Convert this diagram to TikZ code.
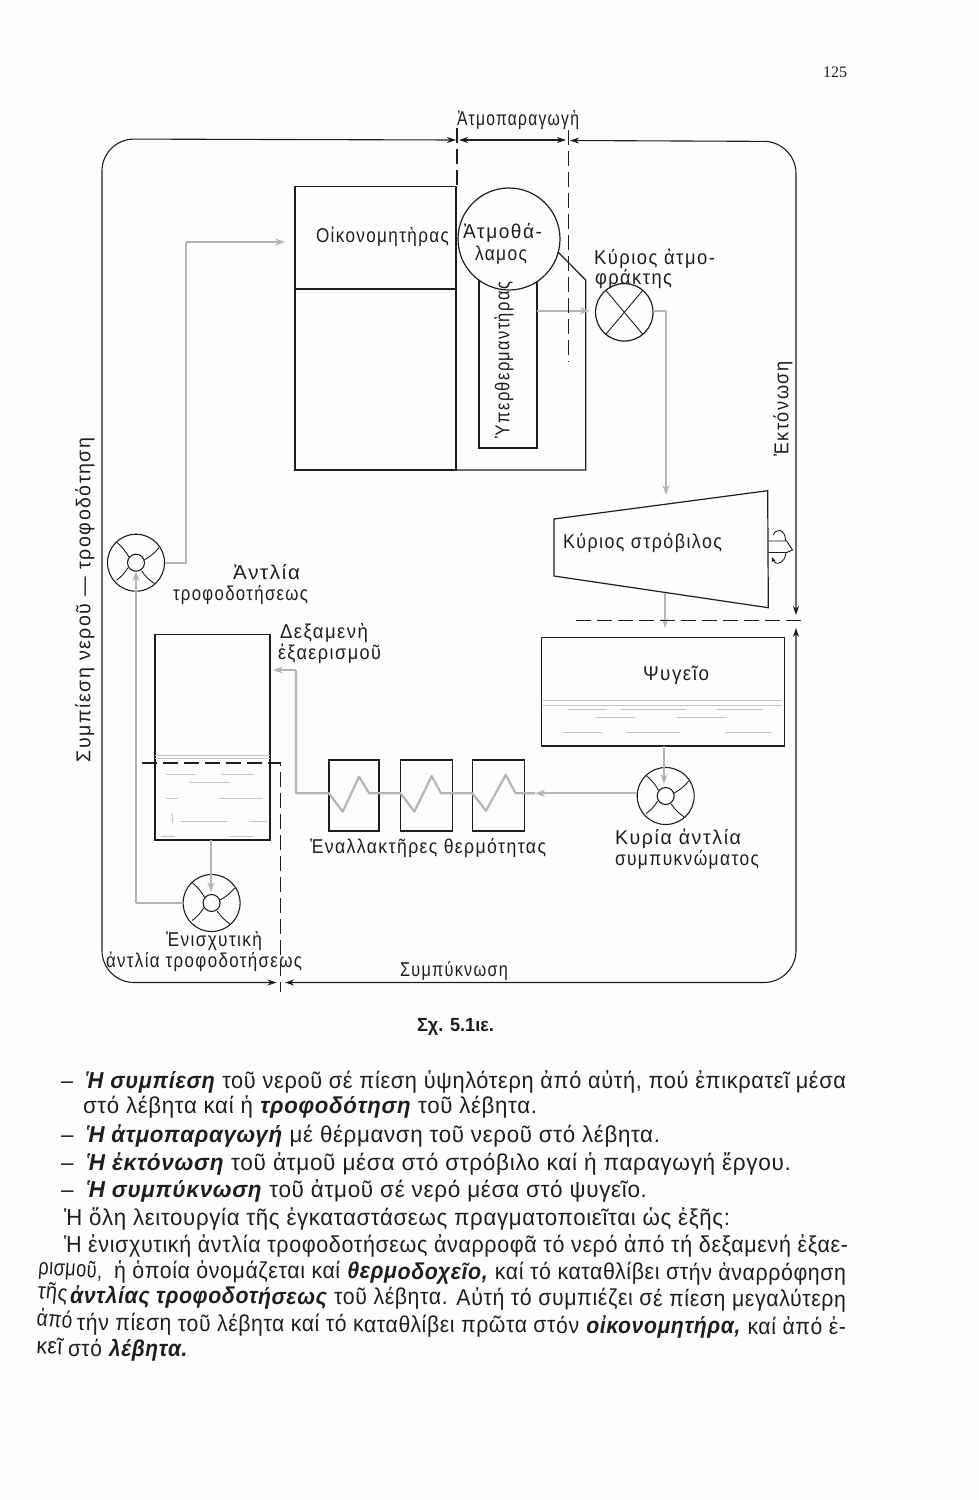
\documentclass[tikz,border=0pt]{standalone}
\usepackage{fontspec}
\usepackage{graphicx}
\setmainfont{Liberation Sans}
\newfontfamily\labfont[LetterSpace=8]{Liberation Sans}
\newfontfamily\bodyfont[LetterSpace=3]{Liberation Sans}
\newfontfamily\pagefont{Liberation Serif}
\usetikzlibrary{arrows.meta,calc}
\definecolor{ink}{HTML}{1E1E1E}
\definecolor{flowgray}{HTML}{B4B4B4}
\definecolor{watergray}{HTML}{C4C4C4}
\definecolor{paper}{HTML}{FDFDFC}
\newcommand{\plab}[5]{\node[lab] (#1) at (#2,#3) {\resizebox{#4pt}{\height}{#5}};}
\newcommand{\bline}[6][]{\node[bodyline,#1] (#2) at (#3,#4) {\resizebox{#5pt}{\height}{#6}};}
\newcommand{\rlab}[5]{\node[rlabel] (#1) at (#2,#3) {\resizebox{#4pt}{\height}{#5}};}
\newcommand{\pumpat}[3]{%
  \node[pumpc] (#1) at (#2,#3) {};
  \node[hubc] (#1h) at (#2,#3) {};
  \coordinate (#1a) at ($(#1.center)+(-19.5,-20.5)$);
  \coordinate (#1b) at ($(#1.center)+(-7,-5.5)$);
  \coordinate (#1c) at ($(#1.center)+(23,-15)$);
  \coordinate (#1d) at ($(#1.center)+(8.5,-3)$);
  \coordinate (#1e) at ($(#1.center)+(-19.5,17.5)$);
  \coordinate (#1f) at ($(#1.center)+(-8,5)$);
  \coordinate (#1g) at ($(#1.center)+(18.5,21)$);
  \coordinate (#1i) at ($(#1.center)+(5.5,8)$);
  \draw[thin line] (#1a) to[bend left=10] (#1b);
  \draw[thin line] (#1c) to[bend left=10] (#1d);
  \draw[thin line] (#1e) to[bend right=10] (#1f);
  \draw[thin line] (#1g) to[bend left=10] (#1i);
}
\tikzset{
  thin line/.style={draw=ink,line width=0.9pt},
  mainline/.style={draw=ink,line width=1.2pt},
  boxn/.style={draw=ink,line width=1.2pt,inner sep=0pt,outer sep=0pt},
  pumpc/.style={circle,draw=ink,line width=1.1pt,minimum size=57pt,inner sep=0pt,outer sep=0pt},
  hubc/.style={circle,draw=ink,line width=1.1pt,minimum size=17pt,inner sep=0pt,outer sep=0pt},
  flow/.style={draw=flowgray,line width=2.2pt},
  flowtip/.style={flow,-{Stealth[length=10pt,width=7pt]}},
  dim/.style={draw=ink,line width=1.1pt,{Stealth[length=9pt,width=6pt]}-{Stealth[length=9pt,width=6pt]}},
  dashline/.style={draw=ink,line width=1.3pt,dash pattern=on 15pt off 6pt},
  water/.style={draw=watergray,line width=1pt},
  lab/.style={anchor=base west,inner sep=0pt,outer sep=0pt,text=ink,font=\labfont\fontsize{20}{20}\selectfont},
  bodyline/.style={anchor=base west,inner sep=0pt,outer sep=0pt,text=ink,font=\bodyfont\fontsize{23}{23}\selectfont},
  rlabel/.style={rotate=90,anchor=center,inner sep=0pt,outer sep=0pt,text=ink,font=\labfont\fontsize{20}{20}\selectfont},
}
\begin{document}
\begin{tikzpicture}[x=1pt,y=-1pt]
\path[fill=paper] (0,0) rectangle (978,1500);
\useasboundingbox (0,0) rectangle (978,1500);

% Boiler block
\node[boxn,minimum width=161pt,minimum height=102.3pt] (econ) at (375.5,237.8) {};
\node[boxn,minimum width=161pt,minimum height=181pt] (evap) at (375.5,379.5) {};
\node[boxn,minimum width=58pt,minimum height=168pt] (super) at (508,364) {};
\coordinate (drumtail) at (558,252);
\coordinate (drumknee) at (585.7,280);
\coordinate (boilercorner) at (585.7,470);
\node[circle,draw=ink,fill=paper,line width=1.2pt,minimum size=102pt,inner sep=0pt,outer sep=0pt] (drum) at (509,239) {};
\draw[mainline] (drumtail) -- (drumknee) -- (boilercorner) -- (evap.south east);

% Main stop valve
\node[circle,draw=ink,line width=1.2pt,minimum size=57.5pt,inner sep=0pt,outer sep=0pt] (valve) at (624.3,312.3) {};
\draw[thin line] (valve.50) -- (valve.230);
\draw[thin line] (valve.130) -- (valve.310);

% Turbine
\coordinate (tA) at (554,519);
\coordinate (tB) at (767.7,490.7);
\coordinate (tC) at (768.3,607.7);
\coordinate (tD) at (554,576);
\draw[mainline] (tA) -- (tB) -- (tC) -- (tD) -- cycle;
\coordinate (shA) at (768.5,541);
\coordinate (shB) at (786.7,541);
\coordinate (shC) at (768.5,552.5);
\coordinate (shD) at (786.7,552.5);
\coordinate (shE) at (792.5,550);
\draw[thin line] (shA) -- (shB) -- (shE) -- (shD) -- (shC);
\coordinate (rotA) at (773.3,535);
\coordinate (rotB) at (785.7,541);
\coordinate (rotC) at (772.3,557);
\coordinate (rotD) at (786,552.5);
\draw[thin line] (rotA) .. controls (776,528) and (785,528) .. (rotB);
\draw[thin line,-{Stealth[length=5pt,width=4pt]}] (rotD) .. controls (785,564) and (775,566) .. (rotC);

% Condenser
\node[boxn,minimum width=242.6pt,minimum height=108.3pt] (cond) at (663,691.9) {};
\coordinate (cw1) at (543,700.7); \coordinate (cw2) at (782,700.7);
\coordinate (cw3) at (543,705); \coordinate (cw4) at (782,705);
\draw[water] (cw1) -- (cw2); \draw[water] (cw3) -- (cw4);
\foreach \a/\b/\c in {568/607/709.3,620/686/709.3,716/763/709.3,595/635/717,676/727/717,563/602/732,626/680/732,725/772/732}
  \draw[water] (\a,\c) -- (\b,\c);

% Feed tank
\node[boxn,minimum width=115pt,minimum height=205.5pt] (tank) at (212.5,737.2) {};
\coordinate (twa) at (155,755); \coordinate (twb) at (270,755);
\coordinate (twc) at (155,758); \coordinate (twd) at (270,758);
\draw[water] (twa) -- (twb); \draw[water] (twc) -- (twd);
\foreach \a/\b/\c in {166/196/774,221/254/774,189/230/782,166/178/798,219/263/798,180/228/821,249/267/821,161/175/836,230/254/836}
  \draw[water] (\a,\c) -- (\b,\c);
\draw[water] (172,813) -- (173,823);

% Heat exchangers
\node[boxn,minimum width=50pt,minimum height=71pt] (hx1) at (354,795.5) {};
\node[boxn,minimum width=52pt,minimum height=71pt] (hx2) at (426.7,795.5) {};
\node[boxn,minimum width=52pt,minimum height=71pt] (hx3) at (498.3,795.5) {};

% Pumps
\pumpat{pfeed}{136}{562.7}
\pumpat{pboost}{211.6}{903}
\pumpat{pcond}{665.7}{796}

% Flow lines
\coordinate (fA) at (186,562.7);
\coordinate (fB) at (186,242);
\coordinate (fC) at (285,242);
\draw[flow] (pfeed.east) -- (fA) -- (fB);
\draw[flowtip] (fB) -- (fC);

\coordinate (bA) at (136,903);
\draw[flow] (pboost.west) -- (bA);
\draw[flowtip] (bA) -- (pfeedh.south);

\coordinate (tb1) at (211,840);
\coordinate (tb2) at (211,892);
\draw[flowtip] (tb1) -- (tb2);

\coordinate (sh1) at (537,310.7);
\coordinate (sh2) at (590,310.7);
\draw[flowtip] (sh1) -- (sh2);
\coordinate (v1) at (653,310.7);
\coordinate (v2) at (666,310.7);
\coordinate (v3) at (666,495);
\draw[flow] (v1) -- (v2);
\draw[flowtip] (v2) -- (v3);

\coordinate (tu1) at (665,593);
\coordinate (tu2) at (665,628);
\draw[flowtip] (tu1) -- (tu2);
\coordinate (co1) at (664,746);
\coordinate (co2) at (664,784);
\draw[flowtip] (co1) -- (co2);

\coordinate (cp1) at (637,793.3);
\coordinate (cp2) at (535,793.3);
\coordinate (z3a) at (515.7,793.3);
\coordinate (z3b) at (505.7,775);
\coordinate (z3c) at (486,810.7);
\coordinate (z3d) at (472.3,793.3);
\coordinate (z2a) at (441,793.3);
\coordinate (z2b) at (431.7,776);
\coordinate (z2c) at (414.3,811.7);
\coordinate (z2d) at (400.7,793.3);
\coordinate (z1a) at (369.3,793.3);
\coordinate (z1b) at (359,776.7);
\coordinate (z1c) at (342.7,811.7);
\coordinate (z1d) at (329,793.3);
\coordinate (hxa) at (296,793.3);
\coordinate (hxb) at (296,670);
\coordinate (hxc) at (273,670);
\draw[flowtip] (cp1) -- (cp2);
\draw[flow,line join=round] (cp2) -- (z3a) -- (z3b) -- (z3c) -- (z3d) -- (z2a) -- (z2b) -- (z2c) -- (z2d) -- (z1a) -- (z1b) -- (z1c) -- (z1d) -- (hxa) -- (hxb);
\draw[flowtip] (hxb) -- (hxc);

% Outer cycle
\coordinate (c1) at (102,982.5);
\coordinate (c2) at (102,139);
\coordinate (c3) at (796,141.5);
\coordinate (c4) at (796,982.5);
\coordinate (t1) at (456,140);
\coordinate (t2) at (459,140);
\coordinate (t3) at (566,140);
\coordinate (t4) at (570,140.5);
\coordinate (r1) at (796,615);
\coordinate (r2) at (796,628);
\coordinate (b1) at (276.5,982.5);
\coordinate (b2) at (285,982.5);
\draw[dim,rounded corners=32pt] (b1) -- (c1) -- (c2) -- (t1);
\draw[dim] (t2) -- (t3);
\draw[dim,rounded corners=32pt] (t4) -- (c3) -- (r1);
\draw[dim,rounded corners=32pt] (r2) -- (c4) -- (b2);

% Stage limits
\coordinate (d1) at (457,128);
\coordinate (d2) at (457,186);
\draw[dashline] (d1) -- (d2);
\coordinate (d3) at (568.5,130);
\coordinate (d4) at (568.5,362);
\draw[dashline] (d3) -- (d4);
\coordinate (d5) at (575.7,620.3);
\coordinate (d6) at (805.7,620.3);
\draw[dashline] (d5) -- (d6);
\coordinate (d7) at (142,763);
\coordinate (d8) at (280.5,763);
\coordinate (d9) at (280.5,992);
\draw[dashline] (d7) -- (d8) -- (d9);

% Labels
\node[lab,font=\pagefont\fontsize{16}{16}\selectfont] (page) at (823,77) {125};
\plab{lAtmo}{457}{125}{122}{Ἀτμοπαραγωγὴ}
\plab{lEcon}{316}{242}{133}{Οἰκονομητὴρας}
\plab{lDrumA}{463}{238}{79}{Ἀτμοθά-}
\plab{lDrumB}{475}{260}{52}{λαμος}
\plab{lValveA}{594}{264}{121}{Κύριος ἀτμο-}
\plab{lValveB}{595}{284}{77}{φράκτης}
\rlab{lSuper}{504}{360}{156}{Ὑπερθερμαντὴρας}
\rlab{lExp}{783}{409}{95}{Ἐκτόνωση}
\rlab{lComp}{85}{600}{325}{Συμπίεση νεροῦ — τροφοδότηση}
\plab{lTurb}{563}{548}{159}{Κύριος στρόβιλος}
\plab{lFeedA}{233}{579}{67}{Ἀντλία}
\plab{lFeedB}{173}{600}{135}{τροφοδοτήσεως}
\plab{lTankA}{280}{638}{88}{Δεξαμενὴ}
\plab{lTankB}{278}{659}{103}{ἐξαερισμοῦ}
\plab{lCond}{643}{680}{66}{Ψυγεῖο}
\plab{lHx}{310}{853.3}{236}{Ἐναλλακτῆρες θερμότητας}
\plab{lPumpA}{615}{844}{126}{Κυρία ἀντλία}
\plab{lPumpB}{615}{865}{144}{συμπυκνώματος}
\plab{lBoostA}{166}{946}{96}{Ἐνισχυτικὴ}
\plab{lBoostB}{106}{967}{196}{ἀντλία τροφοδοτήσεως}
\plab{lCondn}{400}{976}{108}{Συμπύκνωση}
\node[lab,font=\fontsize{19}{19}\selectfont\bfseries] (fig) at (417,1031) {\resizebox{77pt}{\height}{Σχ. 5.1ιε.}};

% Body text
\bline{a1}{61}{1088}{785}{–\hspace{0.55em}\textbf{\textit{Ἡ συμπίεση}} τοῦ νεροῦ σέ πίεση ὑψηλότερη ἀπό αὐτή, πού ἐπικρατεῖ μέσα}
\bline{a2}{83}{1113}{454}{στό λέβητα καί ἡ \textbf{\textit{τροφοδότηση}} τοῦ λέβητα.}
\bline{a3}{61}{1142}{599}{–\hspace{0.55em}\textbf{\textit{Ἡ ἀτμοπαραγωγή}} μέ θέρμανση τοῦ νεροῦ στό λέβητα.}
\bline{a4}{61}{1170}{730}{–\hspace{0.55em}\textbf{\textit{Ἡ ἐκτόνωση}} τοῦ ἀτμοῦ μέσα στό στρόβιλο καί ἡ παραγωγή ἔργου.}
\bline{a5}{61}{1197}{586}{–\hspace{0.55em}\textbf{\textit{Ἡ συμπύκνωση}} τοῦ ἀτμοῦ σέ νερό μέσα στό ψυγεῖο.}
\bline{a6}{64}{1225}{666}{Ἡ ὅλη λειτουργία τῆς ἐγκαταστάσεως πραγματοποιεῖται ὡς ἑξῆς:}
\bline{a7}{64}{1252.5}{784}{Ἡ ἐνισχυτική ἀντλία τροφοδοτήσεως ἀναρροφᾶ τό νερό ἀπό τή δεξαμενή ἐξαε-}
\bline[rotate=-4]{a8a}{38}{1274}{64}{ρισμοῦ,}
\bline[rotate=-0.2]{a8b}{114}{1278}{732}{ἡ ὁποία ὀνομάζεται καί \textbf{\textit{θερμοδοχεῖο,}} καί τό καταθλίβει στήν ἀναρρόφηση}
\bline[rotate=-6]{a9a}{37}{1298}{30}{τῆς}
\bline[rotate=-0.3]{a9b}{70}{1303}{776}{\textbf{\textit{ἀντλίας τροφοδοτήσεως}} τοῦ λέβητα. Αὐτή τό συμπιέζει σέ πίεση μεγαλύτερη}
\bline[rotate=-6]{a10a}{36}{1325}{36}{ἀπό}
\bline[rotate=-0.3]{a10b}{77}{1330.5}{769}{τήν πίεση τοῦ λέβητα καί τό καταθλίβει πρῶτα στόν \textbf{\textit{οἰκονομητήρα,}} καί ἀπό ἐ-}
\bline[rotate=-4]{a11a}{36}{1353}{26}{κεῖ}
\bline{a11b}{68}{1356.5}{120}{στό \textbf{\textit{λέβητα.}}}
\end{tikzpicture}
\end{document}
